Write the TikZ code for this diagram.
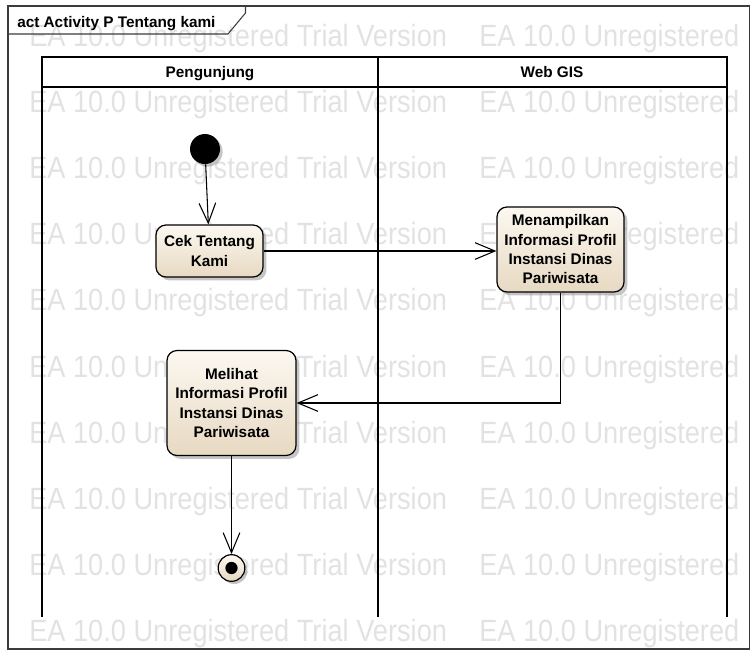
\documentclass[tikz,border=0pt]{standalone}
\usepackage{fontspec}
\usepackage{graphicx}
\setmainfont{Liberation Sans}
\usetikzlibrary{arrows.meta,shadows,calc}
\definecolor{actTop}{RGB}{252,248,241}
\definecolor{actBot}{RGB}{231,217,194}
\definecolor{wmark}{RGB}{226,226,226}
\definecolor{frameGray}{RGB}{60,60,60}
\begin{document}
\begin{tikzpicture}[x=0.75pt,y=-0.75pt,
  wm/.style={text=wmark, inner sep=0pt, anchor=base west, font=\fontsize{20.4}{20}\selectfont},
  act/.style={draw=black, line width=0.9pt, rounded corners=7.5pt, top color=actTop, bottom color=actBot,
    align=center, inner sep=0pt, font=\fontsize{11.5}{14.5}\selectfont\bfseries,
    drop shadow={shadow xshift=2.5pt, shadow yshift=-2.5pt, fill=black!45, opacity=0.5}},
  initnode/.style={circle, fill=black, minimum size=22.5pt, inner sep=0pt,
    drop shadow={shadow xshift=2pt, shadow yshift=-2pt, fill=black!45, opacity=0.5}},
  finalnode/.style={circle, draw=black, line width=0.9pt, top color=actTop, bottom color=actBot,
    minimum size=20pt, inner sep=0pt,
    path picture={\fill[black] (path picture bounding box.center) circle (4.6pt);},
    drop shadow={shadow xshift=2pt, shadow yshift=-2pt, fill=black!45, opacity=0.5}},
  lanehead/.style={font=\fontsize{11.5}{14}\selectfont\bfseries, inner sep=0pt, anchor=base},
  flow/.style={draw=black, line width=0.8pt, -{Straight Barb[length=15pt,width=12.5pt,line width=0.8pt]}}]
  \useasboundingbox (0,0) rectangle (750,651);
  % watermark rows
  \foreach \k in {0,...,9} {
    \node[wm] (wmL\k) at (29,{46+66.2*\k}) {\scalebox{1}[1.13]{EA 10.0 Unregistered Trial Version}};
    \node[wm] (wmR\k) at (479,{46+66.2*\k}) {\scalebox{1}[1.13]{EA 10.0 Unregistered}};
  }
  % frame and tab
  \draw[frameGray, line width=0.8pt] (8,6) rectangle (749.5,649);
  \draw[frameGray, line width=0.8pt] (8,34) -- (228,34) -- (245.5,13) -- (245.5,6);
  \node[anchor=base west, inner sep=0pt, font=\fontsize{11.5}{14}\selectfont\bfseries] (title) at (17,27) {act Activity P Tentang kami};
  % swimlanes
  \draw[black, line width=1.5pt] (42,57) rectangle (727,87);
  \draw[black, line width=1.1pt] (42,87) -- (42,617);
  \draw[black, line width=1.1pt] (378,57) -- (378,617);
  \draw[black, line width=1.1pt] (727,87) -- (727,617);
  \node[lanehead] (laneA) at (210,77) {Pengunjung};
  \node[lanehead] (laneB) at (552,77) {Web GIS};
  % activity nodes
  \node[initnode] (start) at (205,149) {};
  \node[act, minimum width=80.25pt, minimum height=39pt] (cek) at (209.5,251) {Cek Tentang\\Kami};
  \node[act, minimum width=95.25pt, minimum height=63.75pt] (tampil) at (560.5,249.5) {Menampilkan\\Informasi Profil\\Instansi Dinas\\Pariwisata};
  \node[act, minimum width=96.75pt, minimum height=78.75pt] (lihat) at (231.5,403) {Melihat\\Informasi Profil\\Instansi Dinas\\Pariwisata};
  \node[finalnode] (end) at (231.5,568) {};
  % control flows
  \draw[flow] (start) -- (cek);
  \draw[flow] (cek) -- (cek -| tampil.west);
  \draw[flow] (tampil.south) |- (lihat.east);
  \draw[flow] (lihat) -- (end);
\end{tikzpicture}
\end{document}
